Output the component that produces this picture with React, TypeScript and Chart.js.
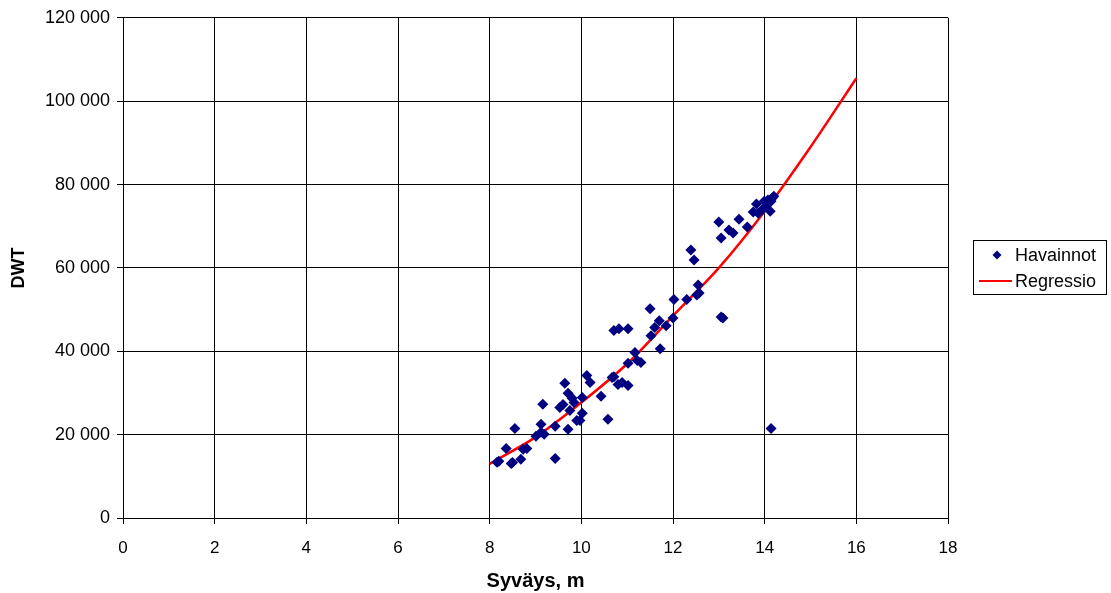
import React, { useEffect, useRef } from "react";
import { Chart, registerables } from "chart.js";

Chart.register(...registerables);

const obsX = [8.16, 8.2, 8.36, 8.47, 8.5, 8.55, 8.68, 8.73, 8.81, 9.01, 9.12, 9.12, 9.16, 9.19, 9.43, 9.43, 9.53, 9.6, 9.64, 9.71, 9.71, 9.75, 9.8, 9.84, 9.9, 9.97, 10.02, 10.02, 10.12, 10.19, 10.43, 10.58, 10.67, 10.71, 10.71, 10.82, 10.8, 10.89, 11.02, 11.02, 11.02, 11.17, 11.22, 11.3, 11.5, 11.52, 11.6, 11.7, 11.72, 11.85, 12.0, 12.02, 12.3, 12.39, 12.46, 12.52, 12.55, 12.57, 13.0, 13.05, 13.09, 13.05, 13.22, 13.31, 13.44, 13.62, 13.75, 13.82, 13.86, 13.94, 13.99, 14.03, 14.07, 14.12, 14.14, 14.16, 14.2, 14.14];
const obsY = [13400, 13600, 16700, 13100, 13300, 21500, 14100, 16500, 16700, 19600, 20600, 22500, 27300, 20100, 14300, 22000, 26500, 27200, 32300, 29900, 21300, 25800, 28700, 27700, 23400, 23400, 25100, 28900, 34200, 32500, 29200, 23700, 33700, 33900, 45000, 45400, 32000, 32500, 45400, 37100, 31800, 39700, 37800, 37300, 50200, 43700, 45700, 47300, 40600, 46100, 48000, 52400, 52400, 64300, 61900, 53500, 55900, 54000, 71000, 67200, 48000, 48200, 69100, 68400, 71700, 69800, 73400, 75300, 73100, 73900, 76000, 74800, 76300, 73600, 76000, 76700, 77200, 21500];

const regX = [8, 9, 10, 11, 12, 13, 14, 15, 16];
const regY = [13000, 19400, 27700, 37000, 48500, 60000, 73600, 89000, 105500];

const yTickLabels = ["0", "20 000", "40 000", "60 000", "80 000", "100 000", "120 000"];
const xTickLabels = ["0", "2", "4", "6", "8", "10", "12", "14", "16", "18"];
const seriesNames = ["Havainnot", "Regressio"];

const FONT = "'Liberation Sans', Arial, sans-serif";

const legendPlugin = {
  id: "boxLegend",
  afterDraw(chart: any) {
    const ctx = chart.ctx;
    ctx.save();
    ctx.strokeStyle = "#000";
    ctx.lineWidth = 1;
    ctx.strokeRect(973.5, 240.5, 133, 54);
    ctx.fillStyle = "#000080";
    ctx.beginPath();
    const cx = 997, cy = 255, r = 4.5;
    ctx.moveTo(cx, cy - r);
    ctx.lineTo(cx + r, cy);
    ctx.lineTo(cx, cy + r);
    ctx.lineTo(cx - r, cy);
    ctx.closePath();
    ctx.fill();
    ctx.strokeStyle = "#FF0000";
    ctx.lineWidth = 2;
    ctx.beginPath();
    ctx.moveTo(979, 281);
    ctx.lineTo(1012, 281);
    ctx.stroke();
    ctx.fillStyle = "#000";
    ctx.font = "18px " + FONT;
    ctx.textBaseline = "middle";
    ctx.textAlign = "left";
    ctx.fillText(seriesNames[0], 1015, 256);
    ctx.fillText(seriesNames[1], 1015, 282);
    ctx.restore();
  },
};

export default function App() {
  const ref = useRef<HTMLCanvasElement>(null);
  useEffect(() => {
    document.body.style.margin = "0";
    const chart = new Chart(ref.current!, {
      type: "scatter",
      data: {
        datasets: [
          {
            label: seriesNames[0],
            data: obsX.map((x, i) => ({ x, y: obsY[i] })),
            pointStyle: "rectRot",
            pointRadius: 5.5,
            backgroundColor: "#000080",
            borderColor: "#000080",
            borderWidth: 0,
            showLine: false,
          },
          {
            label: seriesNames[1],
            data: regX.map((x, i) => ({ x, y: regY[i] })),
            showLine: true,
            pointRadius: 0,
            borderColor: "#FF0000",
            borderWidth: 2.5,
            tension: 0.3,
            fill: false,
          },
        ],
      },
      options: {
        animation: false,
        responsive: false,
        layout: { padding: { top: 16, right: 163, bottom: 0, left: 0 } },
        plugins: { legend: { display: false }, tooltip: { enabled: false } },
        scales: {
          x: {
            type: "linear",
            min: 0,
            max: 18,
            ticks: {
              stepSize: 2,
              color: "#000",
              font: { family: FONT, size: 17 },
              padding: 14,
              maxRotation: 0,
              callback: (v: any, i: number) => xTickLabels[i],
            },
            grid: { color: "#000", lineWidth: 1, tickLength: 6 },
            border: { color: "#000" },
            title: {
              display: true,
              text: "Syväys, m",
              color: "#000",
              font: { family: FONT, size: 20, weight: "bold" },
              padding: { top: 0, bottom: 0 },
            },
            afterFit: (s: any) => {
              s.height = 75;
            },
          },
          y: {
            type: "linear",
            min: 0,
            max: 120000,
            ticks: {
              stepSize: 20000,
              color: "#000",
              font: { family: FONT, size: 18 },
              padding: 7,
              callback: (v: any, i: number) => yTickLabels[i],
            },
            grid: { color: "#000", lineWidth: 1, tickLength: 6 },
            border: { color: "#000" },
            title: {
              display: true,
              text: "DWT",
              color: "#000",
              font: { family: FONT, size: 18, weight: "bold" },
              padding: { top: 8, bottom: 0 },
            },
            afterFit: (s: any) => {
              s.width = 123;
            },
          },
        },
      },
      plugins: [legendPlugin],
    });
    return () => chart.destroy();
  }, []);
  return (
    <div style={{ width: 1111, height: 593 }}>
      <canvas ref={ref} width={1111} height={593} style={{ display: "block" }} />
    </div>
  );
}
